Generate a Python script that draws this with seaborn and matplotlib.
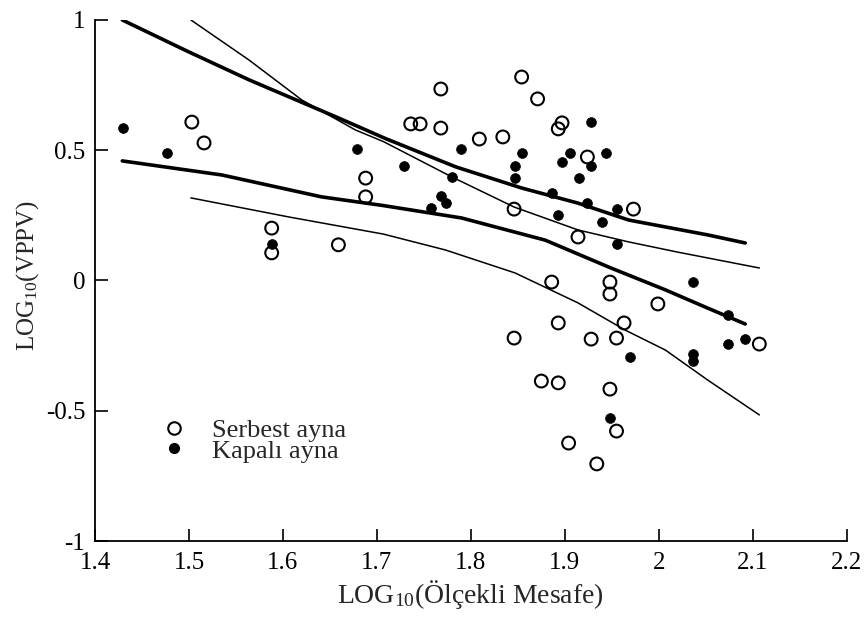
import matplotlib
matplotlib.use("Agg")
import matplotlib.pyplot as plt
import seaborn as sns
import pandas as pd
from matplotlib.lines import Line2D

# ---- data ----
serbest_x = [1.503, 1.516, 1.688, 1.688, 1.588, 1.588, 1.659, 1.854, 1.768, 1.871,
             1.736, 1.746, 1.768, 1.809, 1.834, 1.897, 1.893, 1.924, 1.846, 1.914,
             1.973, 1.886, 1.948, 1.948, 1.893, 1.846, 1.928, 1.955, 1.963, 1.999,
             2.107, 1.875, 1.893, 1.948, 1.955, 1.904, 1.934]
serbest_y = [0.608, 0.528, 0.393, 0.321, 0.201, 0.106, 0.137, 0.781, 0.735, 0.697,
             0.601, 0.601, 0.585, 0.543, 0.551, 0.605, 0.582, 0.474, 0.274, 0.167,
             0.274, -0.006, -0.006, -0.052, -0.163, -0.221, -0.225, -0.221, -0.163, -0.090,
             -0.244, -0.386, -0.393, -0.417, -0.578, -0.624, -0.704]

kapali_x = [1.430, 1.477, 1.679, 1.729, 1.789, 1.780, 1.768, 1.774, 1.758, 1.588,
            1.854, 1.847, 1.847, 1.928, 1.905, 1.897, 1.944, 1.928, 1.915, 1.886,
            1.924, 1.893, 1.955, 1.940, 1.955, 2.036, 2.074, 2.074, 2.092, 2.036,
            2.036, 1.969, 1.948]
kapali_y = [0.585, 0.489, 0.505, 0.440, 0.505, 0.397, 0.324, 0.297, 0.278, 0.140,
            0.489, 0.440, 0.394, 0.608, 0.489, 0.455, 0.489, 0.440, 0.394, 0.336,
            0.297, 0.251, 0.274, 0.225, 0.140, -0.006, -0.132, -0.244, -0.225, -0.282,
            -0.309, -0.294, -0.528]

thick_upper_x = [1.429, 1.500, 1.564, 1.659, 1.709, 1.784, 1.854, 1.914, 1.968, 2.052, 2.092]
thick_upper_y = [1.000, 0.877, 0.770, 0.624, 0.545, 0.436, 0.355, 0.297, 0.232, 0.175, 0.144]
thick_lower_x = [1.429, 1.535, 1.641, 1.706, 1.790, 1.879, 1.949, 2.007, 2.052, 2.092]
thick_lower_y = [0.459, 0.405, 0.321, 0.288, 0.240, 0.155, 0.048, -0.036, -0.106, -0.167]
thin_upper_x = [1.502, 1.564, 1.620, 1.677, 1.707, 1.780, 1.846, 1.914, 1.968, 2.020, 2.107]
thin_upper_y = [1.000, 0.846, 0.693, 0.578, 0.533, 0.397, 0.282, 0.194, 0.148, 0.109, 0.048]
thin_lower_x = [1.502, 1.606, 1.707, 1.773, 1.847, 1.914, 1.964, 2.007, 2.052, 2.107]
thin_lower_y = [0.317, 0.244, 0.178, 0.117, 0.029, -0.086, -0.190, -0.267, -0.382, -0.516]

x_ticks = [1.4, 1.5, 1.6, 1.7, 1.8, 1.9, 2.0, 2.1, 2.2]
x_ticklabels = ["1.4", "1.5", "1.6", "1.7", "1.8", "1.9", "2", "2.1", "2.2"]
y_ticks = [-1, -0.5, 0, 0.5, 1]
y_ticklabels = ["-1", "-0.5", "0", "0.5", "1"]
legend_labels = ["Serbest ayna", "Kapalı ayna"]

# ---- style ----
sns.set_style("ticks")
plt.rcParams["font.family"] = ["Liberation Serif", "DejaVu Serif"]
plt.rcParams["mathtext.fontset"] = "custom"
plt.rcParams["mathtext.rm"] = "Liberation Serif"
plt.rcParams["mathtext.it"] = "Liberation Serif:italic"
plt.rcParams["mathtext.bf"] = "Liberation Serif:bold"

fig = plt.figure(figsize=(8.64, 6.24), dpi=100)
ax = fig.add_axes([0.110, 0.133, 0.870, 0.835])

df_s = pd.DataFrame({"x": serbest_x, "y": serbest_y})
df_k = pd.DataFrame({"x": kapali_x, "y": kapali_y})

sns.scatterplot(data=df_s, x="x", y="y", ax=ax, marker="o", s=85,
                facecolors="none", edgecolor="black", linewidth=1.5, zorder=3)
sns.scatterplot(data=df_k, x="x", y="y", ax=ax, marker="o", s=50,
                color="black", edgecolor="black", linewidth=0.5, zorder=3)

for lx, ly, lw in [(thick_upper_x, thick_upper_y, 2.6),
                   (thick_lower_x, thick_lower_y, 2.6),
                   (thin_upper_x, thin_upper_y, 1.1),
                   (thin_lower_x, thin_lower_y, 1.1)]:
    d = pd.DataFrame({"x": lx, "y": ly})
    sns.lineplot(data=d, x="x", y="y", ax=ax, sort=False, estimator=None,
                 color="black", linewidth=lw, zorder=2)

ax.set_xlim(1.4, 2.2)
ax.set_ylim(-1, 1)
ax.set_xticks(x_ticks)
ax.set_xticklabels(x_ticklabels)
ax.set_yticks(y_ticks)
ax.set_yticklabels(y_ticklabels)
ax.tick_params(axis="both", direction="in", length=9, width=1.2, labelsize=18,
               colors="black")
ax.tick_params(axis="x", pad=8)
ax.tick_params(axis="y", pad=7)
for lbl in ax.get_yticklabels():
    lbl.set_verticalalignment("center_baseline")
for side in ["top", "right"]:
    ax.spines[side].set_visible(False)
for side in ["left", "bottom"]:
    ax.spines[side].set_linewidth(1.3)
    ax.spines[side].set_color("black")

ax.set_xlabel(r"LOG$_{\mathrm{10}}$(Ölçekli Mesafe)", fontsize=20, labelpad=3)
ax.set_ylabel(r"LOG$_{\mathrm{10}}$(VPPV)", fontsize=18)
ax.yaxis.set_label_coords(-0.072, 0.51)

handles = [Line2D([], [], linestyle="none", marker="o", markersize=9,
                  markerfacecolor="none", markeredgecolor="black", markeredgewidth=1.5),
           Line2D([], [], linestyle="none", marker="o", markersize=7,
                  markerfacecolor="black", markeredgecolor="black")]
ax.legend(handles, legend_labels, loc="upper left", bbox_to_anchor=(0.07, 0.26),
          frameon=False, fontsize=19, labelspacing=-0.12, handletextpad=0.95,
          handlelength=1.0, borderpad=0.0)

fig.savefig("out.png", dpi=100, facecolor="white")
